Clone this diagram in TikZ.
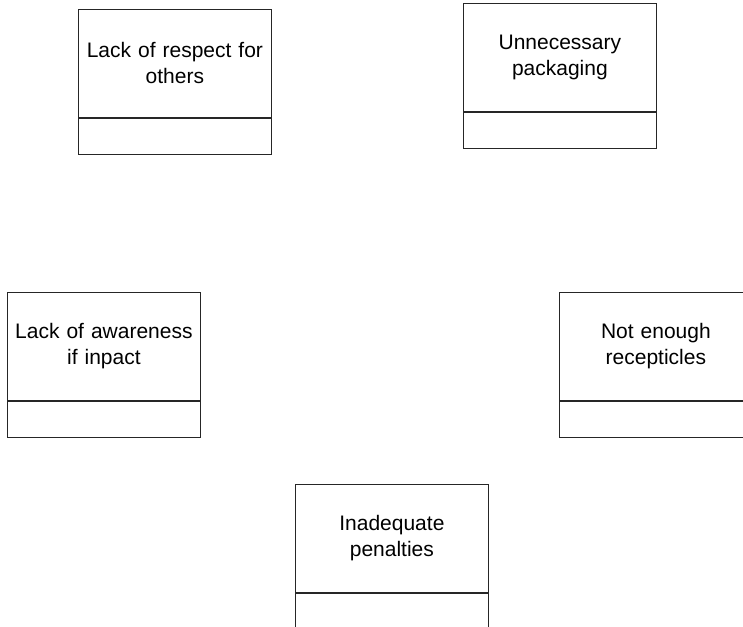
\documentclass[tikz,border=0pt]{standalone}
\usepackage{fontspec}
\setmainfont{Liberation Sans}
\begin{document}
\begin{tikzpicture}[x=1pt,y=-1pt,
  head/.style={draw=black!85, line width=0.8pt, minimum width=193pt, minimum height=108pt,
    inner sep=0pt, align=center, text width=190pt, anchor=north west,
    font=\fontsize{21}{26}\selectfont},
  foot/.style={draw=black!85, line width=0.8pt, minimum width=193pt, minimum height=36pt,
    inner sep=0pt, anchor=north}]
\useasboundingbox (0,0) rectangle (743,626);
\clip (0,0) rectangle (743,626);
\node[head] (h1) at (78,9) {Lack of respect for\\others};
\node[foot] (f1) at (h1.south) {};
\node[head] (h2) at (463,3) {Unnecessary\\packaging};
\node[foot] (f2) at (h2.south) {};
\node[head] (h3) at (7,292) {Lack of awareness\\if inpact};
\node[foot] (f3) at (h3.south) {};
\node[head] (h4) at (559,292) {Not enough\\recepticles};
\node[foot] (f4) at (h4.south) {};
\node[head] (h5) at (295,484) {Inadequate\\penalties};
\node[foot] (f5) at (h5.south) {};
\end{tikzpicture}
\end{document}
